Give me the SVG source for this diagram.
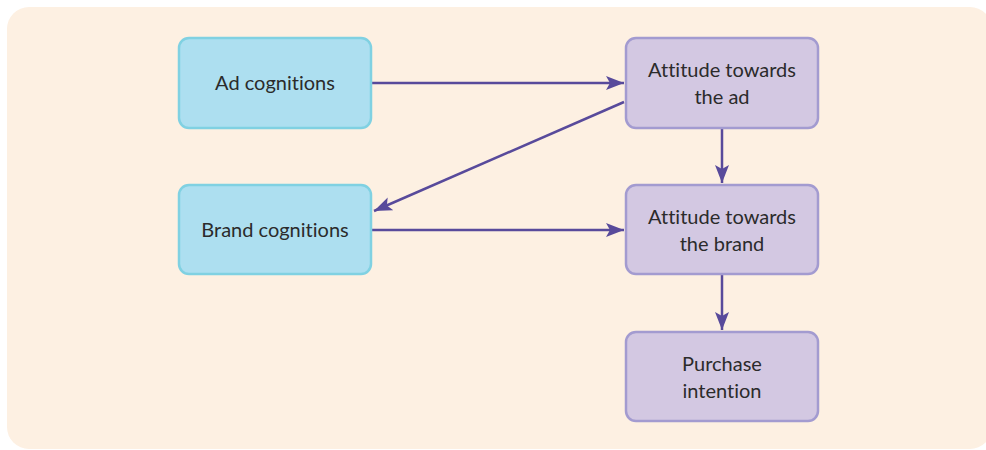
<svg xmlns="http://www.w3.org/2000/svg" width="986" height="450" viewBox="0 0 986 450">
<style>
.bg{fill:#fdf0e2}
.cog{fill:#addff0;stroke:#80d1e2;stroke-width:2.5}
.att{fill:#d3c8e2;stroke:#a39bd0;stroke-width:2.5}
.lbl{font-family:Lato,"Open Sans","Noto Sans",sans-serif;font-size:20px;fill:#2b2b2b;text-anchor:middle;font-variant-ligatures:none}
.edge{stroke:#584a9b;stroke-width:2.5;fill:none;marker-end:url(#ah)}
</style>
<defs>
<marker id="ah" markerUnits="userSpaceOnUse" markerWidth="20" markerHeight="16" viewBox="0 0 20 16" refX="18" refY="8" orient="auto">
<path d="M0,1 L18,8 L0,15 L4,8 Z" fill="#584a9b"/>
</marker>
</defs>
<rect class="bg" x="7" y="7" width="985" height="442" rx="22"/>
<g id="connectors">
<line class="edge" x1="372" y1="83" x2="624" y2="83"/>
<line class="edge" x1="624" y1="102" x2="374" y2="211"/>
<line class="edge" x1="372" y1="230" x2="624" y2="230"/>
<line class="edge" x1="722" y1="128" x2="722" y2="183"/>
<line class="edge" x1="722" y1="275" x2="722" y2="330"/>
</g>
<g id="ad-cognitions">
<rect class="cog" x="179" y="38" width="192" height="90" rx="10"/>
<text class="lbl" x="275" y="90">Ad cognitions</text>
</g>
<g id="brand-cognitions">
<rect class="cog" x="179" y="185" width="192" height="89" rx="10"/>
<text class="lbl" x="275" y="237">Brand cognitions</text>
</g>
<g id="attitude-ad">
<rect class="att" x="626" y="38" width="192" height="90" rx="10"/>
<text class="lbl" x="722" y="77">Attitude towards</text>
<text class="lbl" x="722" y="104">the ad</text>
</g>
<g id="attitude-brand">
<rect class="att" x="626" y="185" width="192" height="89" rx="10"/>
<text class="lbl" x="722" y="224">Attitude towards</text>
<text class="lbl" x="722" y="251">the brand</text>
</g>
<g id="purchase-intention">
<rect class="att" x="626" y="332" width="192" height="89" rx="10"/>
<text class="lbl" x="722" y="371">Purchase</text>
<text class="lbl" x="722" y="398">intention</text>
</g>
</svg>
